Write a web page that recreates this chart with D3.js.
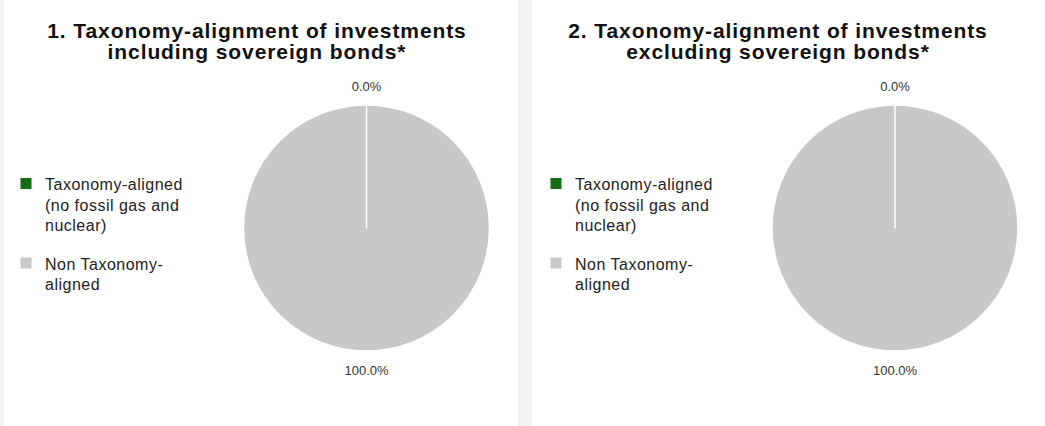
<!DOCTYPE html>
<html>
<head>
<meta charset="utf-8">
<script src="https://cdn.jsdelivr.net/npm/d3@7"></script>
<style>
  html, body { margin: 0; padding: 0; background: #f2f2f2; }
  svg { display: block; }
</style>
</head>
<body>
<svg id="chart" width="1045" height="426"></svg>
<script>
// ---- Data ----
const categories = ["Taxonomy-aligned (no fossil gas and nuclear)", "Non Taxonomy-aligned"];
const legendLines = [["Taxonomy-aligned", "(no fossil gas and", "nuclear)"], ["Non Taxonomy-", "aligned"]];
const colors = ["#146c14", "#c8c8c8"];
const titles = [
  ["1. Taxonomy-alignment of investments", "including sovereign bonds*"],
  ["2. Taxonomy-alignment of investments", "excluding sovereign bonds*"]
];
const valuesIncl = [0.0, 100.0];
const valuesExcl = [0.0, 100.0];
const seriesValues = [valuesIncl, valuesExcl];

// ---- Layout ----
const W = 1045, H = 426;
const panels = [
  { x: 4, w: 514, titleX: 257, pieX: 366.5, legendX: 20.5 },
  { x: 532, w: 513, titleX: 778, pieX: 895, legendX: 550.5 }
];
const pieY = 228, radius = 123, labelR = 142;

const svg = d3.select("#chart");
svg.append("rect").attr("width", W).attr("height", H).attr("fill", "#f2f2f2");

const pie = d3.pie().sort(null).value(d => d);
const arc = d3.arc().innerRadius(0).outerRadius(radius);
const labelArc = d3.arc().innerRadius(labelR).outerRadius(labelR);
const fmt = d3.format(".1f");

panels.forEach((p, i) => {
  const g = svg.append("g");
  g.append("rect").attr("x", p.x).attr("y", 0).attr("width", p.w).attr("height", H).attr("fill", "#ffffff");

  // Title (two lines)
  titles[i].forEach((line, k) => {
    g.append("text")
      .attr("x", p.titleX).attr("y", 37.5 + k * 21)
      .attr("text-anchor", "middle")
      .attr("font-family", "'Liberation Sans', Arial, sans-serif")
      .attr("font-weight", "bold").attr("font-size", 21)
      .attr("letter-spacing", 0.9)
      .attr("fill", "#111")
      .text(line);
  });

  // Legend
  let y0 = 190;
  categories.forEach((c, k) => {
    const lg = g.append("g");
    lg.append("rect").attr("x", p.legendX).attr("y", y0 - 12).attr("width", 11).attr("height", 11).attr("fill", colors[k]);
    const tx = lg.append("text")
      .attr("font-family", "'Liberation Sans', Arial, sans-serif")
      .attr("font-size", 16).attr("letter-spacing", 0.5).attr("fill", "#222");
    legendLines[k].forEach((line, m) => {
      tx.append("tspan").attr("x", p.legendX + 24.5).attr("y", y0 + m * 20.5).text(line);
    });
    y0 += legendLines[k].length * 20.5 + 18;
  });

  // Pie
  const arcs = pie(seriesValues[i]);
  const pg = g.append("g").attr("transform", `translate(${p.pieX},${pieY})`);
  // larger slices first, zero-value slices on top so their white edge shows
  const order = arcs.slice().sort((a, b) => b.value - a.value);
  pg.selectAll("path").data(order).enter().append("path")
    .attr("d", arc)
    .attr("fill", d => colors[d.index])
    .attr("stroke", "#ffffff")
    .attr("stroke-width", 1.5)
    .attr("stroke-linejoin", "round");

  pg.selectAll("text").data(arcs).enter().append("text")
    .attr("transform", d => `translate(${labelArc.centroid(d)})`)
    .attr("text-anchor", "middle")
    .attr("dominant-baseline", "central")
    .attr("font-family", "'Liberation Sans', Arial, sans-serif")
    .attr("font-size", 13).attr("fill", "#333")
    .text(d => fmt(d.value) + "%");
});
</script>
</body>
</html>
